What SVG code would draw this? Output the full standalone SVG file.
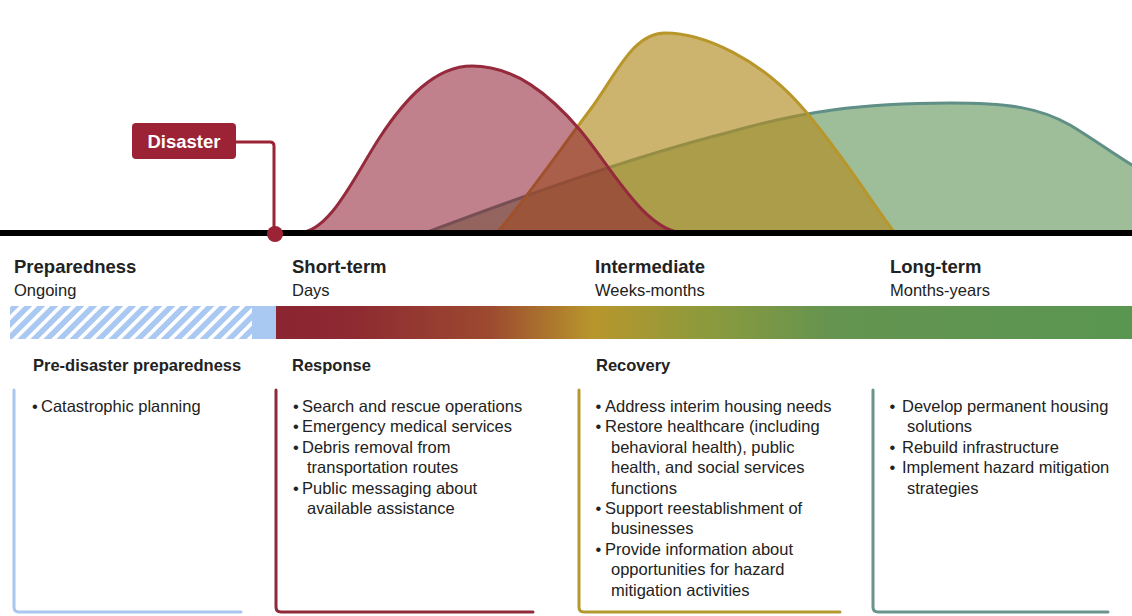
<svg xmlns="http://www.w3.org/2000/svg" width="1132" height="616" viewBox="0 0 1132 616">
<style>
text{font-family:"Liberation Sans",Arial,sans-serif;fill:#222}
.ph{font-size:18.5px;font-weight:bold}
.sub{font-size:16.5px}
.sec{font-size:16.5px;font-weight:bold}
.b{font-size:16.5px}
.br{fill:none;stroke-width:3;stroke-linecap:round}
</style>
<defs>
<pattern id="hatch" width="9.2" height="9.2" patternUnits="userSpaceOnUse" patternTransform="rotate(45)">
<rect width="9.2" height="9.2" fill="#a9c8f2"/>
<rect width="3.6" height="9.2" fill="#ffffff"/>
</pattern>
<linearGradient id="grad" gradientUnits="userSpaceOnUse" x1="276" y1="0" x2="1132" y2="0">
<stop offset="0" stop-color="#8b2531"/>
<stop offset="0.09" stop-color="#8e2a32"/>
<stop offset="0.25" stop-color="#9c4a2f"/>
<stop offset="0.37" stop-color="#b8962c"/>
<stop offset="0.5" stop-color="#8d9a3c"/>
<stop offset="0.65" stop-color="#649450"/>
<stop offset="1" stop-color="#5a9650"/>
</linearGradient>
</defs>

<g id="curves">
<path id="longterm-curve" d="M425,233 C500,205 620,160 730,132 C800,112 860,103 950,103 C1010,103 1040,108 1070,125 C1095,140 1115,155 1140,170 L1140,233 Z" fill="#5c9255" fill-opacity="0.6" stroke="#5f8f86" stroke-width="3"/>
<path id="intermediate-curve" d="M497,233 C525,200 560,150 590,110 C615,77 632,33 665,33 C705,33 760,60 800,105 C840,150 880,215 895,233 Z" fill="#b28c20" fill-opacity="0.65" stroke="#b8962a" stroke-width="3"/>
<path id="shortterm-curve" d="M298,233 C330,233 355,175 380,137 C405,99 435,66 472,66 C515,66 550,95 580,130 C610,165 645,233 685,233 Z" fill="#8c1a2e" fill-opacity="0.55" stroke="#952a3c" stroke-width="3"/>
</g>

<g id="connectors">
<line x1="0" y1="233" x2="1132" y2="233" stroke="#000" stroke-width="6"/>
<path d="M236,142 H270 Q274,142 274,146 V234" fill="none" stroke="#9b2335" stroke-width="3"/>
</g>

<g id="disaster">
<rect x="132" y="123" width="104" height="36" rx="4" fill="#9b2335"/>
<text x="184" y="148" text-anchor="middle" style="font-size:18.5px;font-weight:bold;fill:#fff">Disaster</text>
<circle cx="275" cy="234" r="8" fill="#9b2335"/>
</g>

<g id="bar">
<rect x="10" y="306" width="266" height="33" fill="#a9c8f2"/>
<rect x="10" y="306" width="242" height="33" fill="url(#hatch)"/>
<rect x="276" y="306" width="856" height="33" fill="url(#grad)"/>
</g>

<g id="preparedness">
<text class="ph" x="14" y="273">Preparedness</text>
<text class="sub" x="14" y="296">Ongoing</text>
<text class="sec" x="33" y="371">Pre-disaster preparedness</text>
<path class="br" stroke="#a9c6ef" d="M14,390 V607 Q14,612 19,612 H241"/>
<text class="b" x="32" y="412">•</text><text class="b" x="41" y="412">Catastrophic planning</text>
</g>

<g id="short-term">
<text class="ph" x="292" y="273">Short-term</text>
<text class="sub" x="292" y="296">Days</text>
<text class="sec" x="292" y="371">Response</text>
<path class="br" stroke="#8e2a3a" d="M276,390 V607 Q276,612 281,612 H533"/>
<text class="b" x="293" y="412">•</text><text class="b" x="302" y="412">Search and rescue operations</text>
<text class="b" x="293" y="432.4">•</text><text class="b" x="302" y="432.4">Emergency medical services</text>
<text class="b" x="293" y="452.8">•</text><text class="b" x="302" y="452.8">Debris removal from</text>
<text class="b" x="307" y="473.2">transportation routes</text>
<text class="b" x="293" y="493.6">•</text><text class="b" x="302" y="493.6">Public messaging about</text>
<text class="b" x="307" y="514">available assistance</text>
</g>

<g id="intermediate">
<text class="ph" x="595" y="273">Intermediate</text>
<text class="sub" x="595" y="296">Weeks-months</text>
<text class="sec" x="596" y="371">Recovery</text>
<path class="br" stroke="#b39a2e" d="M579,390 V607 Q579,612 584,612 H840"/>
<text class="b" x="595.5" y="412">•</text><text class="b" x="605" y="412">Address interim housing needs</text>
<text class="b" x="595.5" y="432.4">•</text><text class="b" x="605" y="432.4">Restore healthcare (including</text>
<text class="b" x="611" y="452.8">behavioral health), public</text>
<text class="b" x="611" y="473.2">health, and social services</text>
<text class="b" x="611" y="493.6">functions</text>
<text class="b" x="595.5" y="514">•</text><text class="b" x="605" y="514">Support reestablishment of</text>
<text class="b" x="611" y="534.4">businesses</text>
<text class="b" x="595.5" y="554.8">•</text><text class="b" x="605" y="554.8">Provide information about</text>
<text class="b" x="611" y="575.2">opportunities for hazard</text>
<text class="b" x="611" y="595.6">mitigation activities</text>
</g>

<g id="long-term">
<text class="ph" x="890" y="273">Long-term</text>
<text class="sub" x="890" y="296">Months-years</text>
<path class="br" stroke="#6a948c" d="M873,390 V607 Q873,612 878,612 H1108"/>
<text class="b" x="889.5" y="412">•</text><text class="b" x="902" y="412">Develop permanent housing</text>
<text class="b" x="907" y="432.4">solutions</text>
<text class="b" x="889.5" y="452.8">•</text><text class="b" x="902" y="452.8">Rebuild infrastructure</text>
<text class="b" x="889.5" y="473.2">•</text><text class="b" x="902" y="473.2">Implement hazard mitigation</text>
<text class="b" x="907" y="493.6">strategies</text>
</g>
</svg>
